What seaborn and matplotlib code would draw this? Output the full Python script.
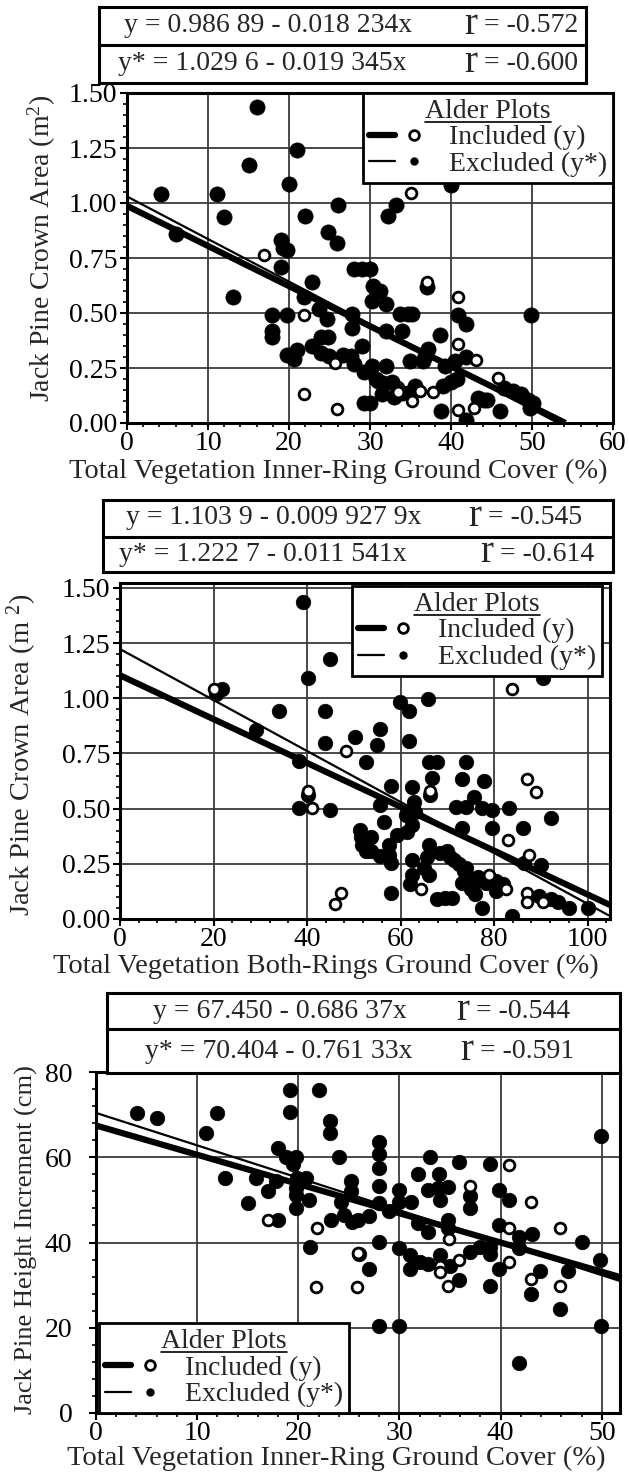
import matplotlib
matplotlib.use('Agg')
import matplotlib.pyplot as plt
import seaborn as sns
import numpy as np
import pandas as pd
from matplotlib.lines import Line2D
from matplotlib.legend_handler import HandlerTuple
from matplotlib.ticker import MultipleLocator, FormatStrFormatter

sns.set_theme(style='white')
plt.rcParams['font.family'] = ['Liberation Serif', 'DejaVu Serif']
plt.rcParams['mathtext.fontset'] = 'custom'
plt.rcParams['mathtext.rm'] = 'Liberation Serif'
plt.rcParams['mathtext.it'] = 'Liberation Serif:italic'

# ---------------- data ----------------
# Panel 1: crown area vs inner-ring cover
p1_excl_x = [4.2, 6.1, 11.1, 12.0, 13.1, 15.0, 16.1, 19.0, 19.3, 19.8, 19.0, 20.0, 21.0, 22.0, 24.8, 25.9, 26.0,
             22.9, 21.8, 17.9, 19.8, 23.7, 24.7, 17.9, 17.9, 24.0, 24.8, 22.9, 23.9, 24.9, 19.8, 21.0, 20.6, 26.7,
             27.6, 28.0, 27.8, 27.8, 29.0, 29.2, 29.2, 28.0, 29.0, 30.0, 30.4, 31.2, 30.2, 32.0, 37.0, 33.2, 32.2,
             40.0, 33.7, 34.7, 35.2, 40.9, 41.9, 49.9, 32.0, 33.9, 38.6, 37.2, 36.8, 34.9, 41.9, 30.2, 30.8, 31.6,
             32.0, 39.2, 40.5, 39.0, 40.0, 40.8, 46.6, 47.6, 48.6, 49.5, 50.1, 49.7, 30.0, 38.8, 41.9, 43.3, 44.1,
             44.5, 46.0, 33.9, 33.3, 32.7, 31.0, 34.7, 35.5, 36.5, 33.0, 31.5]
p1_excl_y = [1.04, 0.86, 1.04, 0.935, 0.575, 1.175, 1.435, 0.83, 0.795, 0.785, 0.71, 1.085, 1.24, 0.94, 0.866,
             0.816, 0.99, 0.64, 0.575, 0.49, 0.49, 0.52, 0.475, 0.42, 0.39, 0.39, 0.39, 0.35, 0.32, 0.305, 0.31,
             0.33, 0.29, 0.31, 0.305, 0.27, 0.495, 0.43, 0.35, 0.23, 0.09, 0.70, 0.70, 0.70, 0.625, 0.60, 0.555,
             0.54, 0.62, 0.99, 0.94, 1.08, 0.495, 0.495, 0.495, 0.49, 0.45, 0.49, 0.42, 0.42, 0.40, 0.335, 0.305,
             0.28, 0.30, 0.26, 0.20, 0.18, 0.26, 0.26, 0.28, 0.17, 0.185, 0.20, 0.16, 0.145, 0.13, 0.105, 0.09,
             0.07, 0.09, 0.055, 0.015, 0.115, 0.105, 0.105, 0.055, 0.135, 0.16, 0.185, 0.19, 0.135, 0.17, 0.28,
             0.12, 0.13]
p1_incl_x = [16.9, 21.8, 21.9, 25.9, 25.7, 35.0, 37.0, 40.9, 40.9, 43.1, 45.8, 35.2, 36.2, 37.8, 40.9, 42.9, 33.5]
p1_incl_y = [0.765, 0.49, 0.13, 0.065, 0.275, 1.045, 0.64, 0.575, 0.36, 0.285, 0.205, 0.10, 0.145, 0.14, 0.06,
             0.07, 0.14]

# Panel 2: crown area vs both-rings cover
p2_excl_x = [39.1, 45.0, 40.3, 21.9, 20.5, 34.0, 43.8, 29.0, 43.8, 50.2, 38.3, 52.7, 40.3, 38.3, 45.0, 51.3, 51.5,
             51.8, 52.7, 90.4, 65.9, 59.9, 61.8, 55.7, 55.0, 61.8, 66.1, 67.9, 73.9, 66.8, 66.4, 62.5, 73.2, 77.9,
             57.9, 75.7, 55.7, 62.9, 63.2, 71.8, 73.9, 77.5, 79.6, 83.2, 92.1, 61.1, 56.4, 53.6, 57.5, 59.3, 61.4,
             62.5, 73.2, 79.6, 86.1, 66.1, 52.1, 53.6, 55.7, 57.5, 57.9, 62.5, 65.7, 70.0, 71.4, 62.5, 65.0, 66.1,
             73.6, 74.6, 76.4, 78.2, 80.4, 86.4, 90.0, 89.6, 92.1, 93.6, 96.1, 100.0, 83.9, 77.5, 73.2, 67.9, 69.6,
             71.1, 57.9, 62.1, 75.0, 76.0, 70.5, 72.5, 74.0, 76.5, 68.5, 80.5, 82.0]
p2_excl_y = [1.436, 1.178, 1.093, 1.044, 1.02, 0.94, 0.944, 0.858, 0.798, 0.825, 0.716, 0.711, 0.56, 0.503, 0.492,
             0.403, 0.373, 0.336, 0.306, 1.093, 0.996, 0.985, 0.944, 0.861, 0.79, 0.805, 0.711, 0.711, 0.711, 0.64,
             0.56, 0.597, 0.632, 0.627, 0.604, 0.553, 0.515, 0.532, 0.485, 0.507, 0.507, 0.503, 0.492, 0.503, 0.458,
             0.47, 0.44, 0.373, 0.336, 0.38, 0.395, 0.425, 0.41, 0.413, 0.41, 0.336, 0.336, 0.306, 0.284, 0.291,
             0.254, 0.269, 0.279, 0.306, 0.269, 0.2, 0.231, 0.2, 0.216, 0.186, 0.172, 0.164, 0.127, 0.254, 0.246,
             0.104, 0.09, 0.075, 0.052, 0.052, 0.015, 0.052, 0.164, 0.09, 0.097, 0.097, 0.119, 0.157, 0.134, 0.112,
             0.28, 0.25, 0.23, 0.19, 0.3, 0.17, 0.16]
p2_incl_x = [20.1, 48.4, 40.3, 41.1, 47.2, 45.9, 83.9, 66.4, 87.1, 88.9, 82.9, 78.9, 82.5, 87.5, 87.1, 87.1, 90.4,
             64.3]
p2_incl_y = [1.04, 0.76, 0.58, 0.503, 0.119, 0.067, 1.04, 0.58, 0.632, 0.574, 0.358, 0.2, 0.134, 0.291, 0.119,
             0.075, 0.075, 0.134]

# Panel 3: height increment vs inner-ring cover
p3_excl_x = [4.1, 6.0, 12.0, 10.9, 19.2, 22.0, 19.2, 23.1, 23.1, 18.0, 18.8, 19.8, 19.5, 24.0, 12.8, 15.8, 17.8,
             17.0, 19.9, 20.8, 19.8, 19.8, 15.0, 21.1, 18.0, 19.8, 23.2, 21.2, 25.2, 25.2, 24.2, 24.5, 25.3, 26.0,
             49.9, 28.0, 28.0, 28.0, 28.0, 28.0, 33.0, 35.9, 38.9, 31.8, 33.9, 32.8, 33.8, 34.8, 34.0, 37.0, 37.0,
             30.0, 30.0, 31.1, 39.8, 40.8, 29.0, 27.0, 25.9, 31.8, 32.8, 34.8, 34.8, 39.8, 41.8, 43.1, 48.0, 28.0,
             30.0, 31.0, 32.0, 32.8, 34.0, 31.0, 35.0, 37.0, 38.0, 38.9, 38.9, 39.8, 41.8, 43.9, 46.7, 49.8, 43.0,
             45.9, 38.9, 35.9, 27.0, 28.0, 30.0, 49.9, 41.8]
p3_excl_y = [70.4, 69.2, 70.4, 65.8, 75.7, 75.7, 70.6, 68.6, 65.8, 62.1, 60.1, 60.1, 58.3, 60.1, 55.2, 55.2, 54.4,
             52.0, 55.2, 55.2, 52.8, 51.2, 49.2, 50.0, 45.3, 48.1, 45.3, 39.0, 54.4, 52.0, 49.6, 46.5, 44.9, 37.4,
             65.1, 63.5, 60.7, 57.5, 53.2, 49.2, 60.1, 59.0, 58.3, 56.1, 56.1, 52.4, 52.8, 53.0, 50.0, 50.8, 48.1,
             52.4, 49.6, 49.6, 52.4, 50.0, 47.3, 46.1, 45.3, 44.5, 42.5, 45.3, 43.3, 44.1, 41.3, 42.1, 40.2, 40.2,
             38.6, 37.0, 35.4, 35.0, 37.0, 33.8, 34.6, 37.8, 39.0, 39.0, 37.4, 33.8, 38.6, 33.4, 33.4, 35.8, 27.9,
             24.3, 29.9, 31.1, 33.8, 20.4, 20.4, 20.4, 11.7]
p3_incl_x = [17.0, 21.8, 21.7, 25.8, 25.9, 34.9, 34.0, 34.0, 35.9, 34.8, 37.0, 40.8, 43.0, 40.8, 40.8, 45.9, 43.0,
             45.9]
p3_incl_y = [45.3, 43.3, 29.5, 29.5, 37.5, 40.9, 34.6, 33.0, 35.8, 29.9, 53.2, 58.2, 49.6, 43.3, 35.4, 43.3, 31.5,
             29.9]

# regression coefficients (intercept, slope) and r values
p1_fit = [(0.98689, -0.018234), (1.0296, -0.019345)]
p2_fit = [(1.1039, -0.0099279), (1.2227, -0.011541)]
p3_fit = [(67.450, -0.68637), (70.404, -0.76133)]
p1_eq = ["y = 0.986 89 - 0.018 234x", "y* = 1.029 6 - 0.019 345x"]
p2_eq = ["y = 1.103 9 - 0.009 927 9x", "y* = 1.222 7 - 0.011 541x"]
p3_eq = ["y = 67.450 - 0.686 37x", "y* = 70.404 - 0.761 33x"]
p1_r = ["-0.572", "-0.600"]
p2_r = ["-0.545", "-0.614"]
p3_r = ["-0.544", "-0.591"]

xlabels = ["Total Vegetation Inner-Ring Ground Cover (%)",
           "Total Vegetation Both-Rings Ground Cover (%)",
           "Total Vegetation Inner-Ring Ground Cover (%)"]
ylabels = [r"Jack Pine Crown Area (m$^{\mathregular{2}}$)",
           r"Jack Pine Crown Area (m $^{\mathregular{2}}$)",
           "Jack Pine Height Increment (cm)"]
legend_title = "Alder Plots"
legend_labels = ["Included (y)", "Excluded (y*)"]

# ---------------- layout ----------------
W, H = 629, 1478
fig = plt.figure(figsize=(W / 100, H / 100), dpi=100)


def rect(l, t, r, b):
    return [l / W, 1 - b / H, (r - l) / W, (b - t) / H]


panels = [
    dict(ax=(127, 93, 613, 423), box=(99, 7, 586, 83), sep=45,
         xlim=(0, 60), ylim=(0, 1.5), xmaj=10, xmin=2, ymaj=0.25, ymin=0.05, yfmt='%.2f',
         ex=(p1_excl_x, p1_excl_y), inc=(p1_incl_x, p1_incl_y), fit=p1_fit, eq=p1_eq, r=p1_r,
         eqc=[(268, 26), (262, 64)], rpos=[(477, 26), (477, 64)],
         xl=(338, 471, 20.5), yl=(42, 248, 20), ypad=2,
         leg=dict(loc='upper right', bbox_to_anchor=(1.0, 1.0)), sf=120, so=60),
    dict(ax=(120, 583, 610, 919), box=(103, 500, 613, 572), sep=537,
         xlim=(0, 104.8), ylim=(0, 1.522), xmaj=20, xmin=4, ymaj=0.25, ymin=0.05, yfmt='%.2f',
         ex=(p2_excl_x, p2_excl_y), inc=(p2_incl_x, p2_incl_y), fit=p2_fit, eq=p2_eq, r=p2_r,
         eqc=[(274, 518), (263, 554)], rpos=[(481, 518), (493, 554)],
         xl=(326, 966, 20.5), yl=(22, 755, 20.5), ypad=2,
         leg=dict(loc='upper right', bbox_to_anchor=(0.984, 0.991)), sf=110, so=60),
    dict(ax=(96, 1072, 620, 1413), box=(107, 993, 620, 1073), sep=1029,
         xlim=(0, 51.8), ylim=(0, 80), xmaj=10, xmin=2, ymaj=20, ymin=4, yfmt='%d',
         ex=(p3_excl_x, p3_excl_y), inc=(p3_incl_x, p3_incl_y), fit=p3_fit, eq=p3_eq, r=p3_r,
         eqc=[(280, 1011), (279, 1051)], rpos=[(469, 1011), (473, 1051)],
         xl=(336, 1458, 20.5), yl=(26, 1240, 19), ypad=12,
         leg=dict(loc='lower left', bbox_to_anchor=(0.006, 0.0)), sf=110, so=60),
]

FS = 20
legends = []
for i, p in enumerate(panels):
    ax = fig.add_axes(rect(*p['ax']))
    dfe = pd.DataFrame({'x': p['ex'][0], 'y': p['ex'][1]})
    dfi = pd.DataFrame({'x': p['inc'][0], 'y': p['inc'][1]})
    sns.scatterplot(data=dfe, x='x', y='y', ax=ax, color='black', edgecolor='black',
                    linewidth=0.5, s=p['sf'], zorder=3)
    # regression lines
    for (a, b), lw in zip(p['fit'], [4.5, 1.6]):
        xend = min(p['xlim'][1], -a / b)
        xs = np.array([0.0, xend])
        ax.plot(xs, a + b * xs, color='black', lw=lw, solid_capstyle='butt', zorder=4)
    sns.scatterplot(data=dfi, x='x', y='y', ax=ax, color='white', edgecolor='black',
                    linewidth=2.0, s=p['so'], zorder=5)
    ax.set_xlim(*p['xlim'])
    ax.set_ylim(*p['ylim'])
    ax.xaxis.set_major_locator(MultipleLocator(p['xmaj']))
    ax.xaxis.set_minor_locator(MultipleLocator(p['xmin']))
    ax.yaxis.set_major_locator(MultipleLocator(p['ymaj']))
    ax.yaxis.set_minor_locator(MultipleLocator(p['ymin']))
    ax.yaxis.set_major_formatter(FormatStrFormatter(p['yfmt']))
    ax.set_xlabel('')
    ax.set_ylabel('')
    ax.grid(True, which='major', color='#3a3a3a', lw=1.3)
    ax.set_axisbelow(True)
    for sp in ax.spines.values():
        sp.set_linewidth(2.2)
        sp.set_color('black')
    ax.tick_params(which='major', direction='out', length=5, width=1.5, labelsize=FS,
                   colors='black', left=True, bottom=True)
    ax.tick_params(axis='y', which='major', pad=p['ypad'])
    ax.tick_params(axis='x', which='major', pad=1)
    ax.tick_params(which='minor', direction='out', length=3, width=1.2, left=True, bottom=True,
                   colors='black')
    # legend
    h_inc = (Line2D([], [], color='black', lw=4.5),
             Line2D([], [], ls='', marker='o', ms=7, mfc='white', mec='black', mew=2))
    h_exc = (Line2D([], [], color='black', lw=1.6),
             Line2D([], [], ls='', marker='o', ms=5, mfc='black', mec='black'))
    leg = ax.legend([h_inc, h_exc], legend_labels, title=legend_title,
                    handler_map={tuple: HandlerTuple(ndivide=None, pad=0.2)},
                    fontsize=FS, title_fontsize=FS, frameon=True, fancybox=False,
                    edgecolor='black', framealpha=1, borderaxespad=0, handlelength=2.1,
                    handletextpad=0.8, labelspacing=0.05, borderpad=0.2, **p['leg'])
    leg.get_frame().set_linewidth(2.0)
    leg.set_zorder(10)
    legends.append(leg)
    # equation box
    bx = p['box']
    bax = fig.add_axes(rect(*bx))
    bax.set_xticks([])
    bax.set_yticks([])
    bax.set_xlim(0, 1)
    bax.set_ylim(0, 1)
    bax.set_facecolor('white')
    for sp in bax.spines.values():
        sp.set_linewidth(2.2)
        sp.set_color('black')
    bax.axhline(1 - (p['sep'] - bx[1]) / (bx[3] - bx[1]), color='black', lw=2.2)
    for (cx, cy), txt in zip(p['eqc'], p['eq']):
        fig.text(cx / W, 1 - cy / H, txt, ha='center', va='center', fontsize=FS)
    for (rx, ry), rv in zip(p['rpos'], p['r']):
        fig.text(rx / W, 1 - (ry - 1) / H, "r", ha='right', va='center', fontsize=28)
        fig.text(rx / W, 1 - ry / H, " = " + rv, ha='left', va='center', fontsize=FS)
    # axis labels
    fig.text(p['xl'][0] / W, 1 - p['xl'][1] / H, xlabels[i], ha='center', va='center',
             fontsize=p['xl'][2])
    fig.text(p['yl'][0] / W, 1 - p['yl'][1] / H, ylabels[i], ha='center', va='center',
             fontsize=p['yl'][2], rotation=90)

# underline legend titles
fig.canvas.draw()
inv = fig.transFigure.inverted()
for leg in legends:
    bb = leg.get_title().get_window_extent()
    (x0, y0), (x1, y1) = inv.transform([(bb.x0, bb.y0), (bb.x1, bb.y1)])
    yline = y0 + 0.08 * (y1 - y0)
    fig.add_artist(Line2D([x0, x1], [yline, yline], transform=fig.transFigure,
                          color='black', lw=1.2, zorder=20))

fig.savefig('out.png', dpi=100, facecolor='white')
